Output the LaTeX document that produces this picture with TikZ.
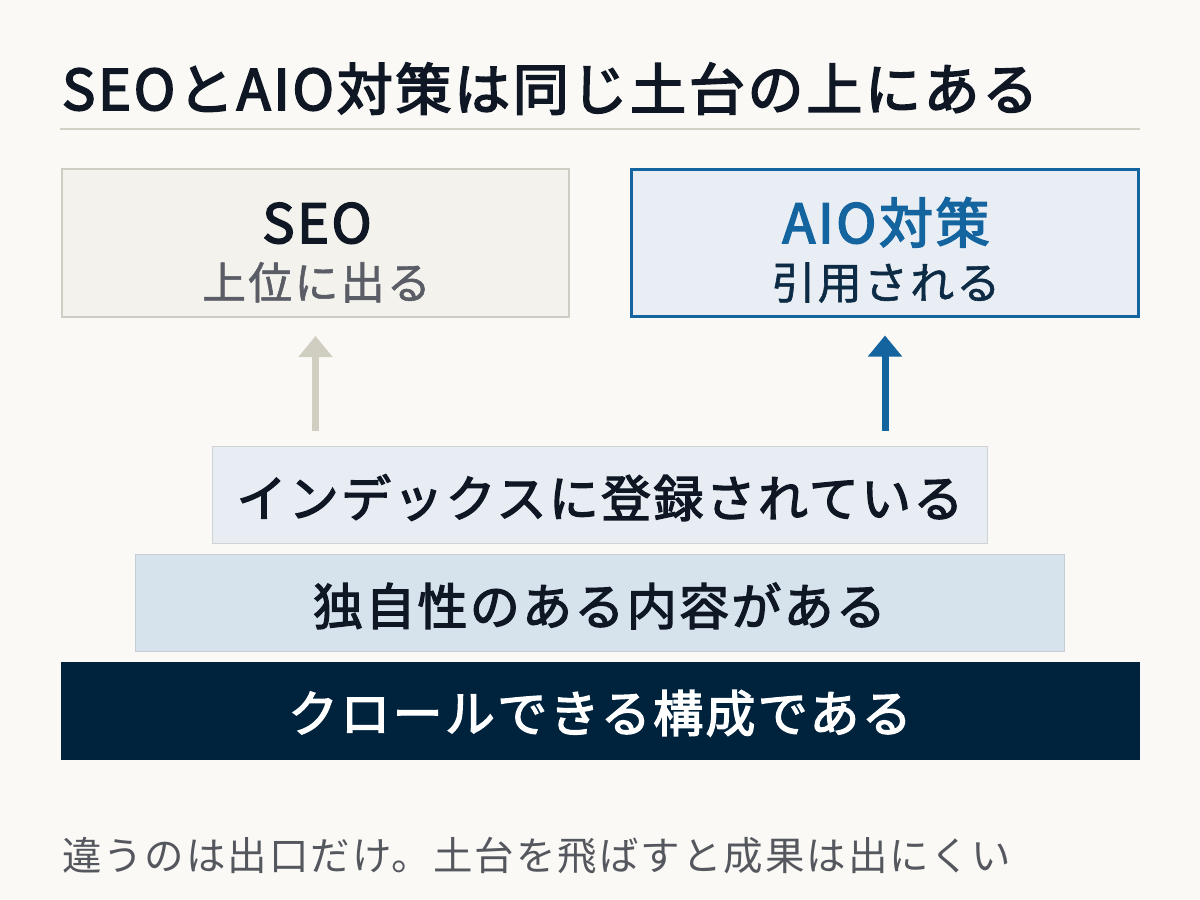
\documentclass[tikz,border=0pt]{standalone}
\usepackage{fontspec}
\setmainfont{Noto Sans CJK JP}
\newfontfamily\jp[LetterSpace=5]{Noto Sans CJK JP}
\newfontfamily\jpm[LetterSpace=4.8,FakeBold=3]{Noto Sans CJK JP}
\newfontfamily\jpl[LetterSpace=4.6,FakeBold=2.6]{Noto Sans CJK JP}
\newfontfamily\jps[LetterSpace=5,FakeBold=1.3]{Noto Sans CJK JP}
\usetikzlibrary{arrows.meta}
\definecolor{bg}{HTML}{FAF9F6}
\definecolor{ink}{HTML}{0F1724}
\definecolor{rulec}{HTML}{D3D1C6}
\definecolor{seofill}{HTML}{F3F2EC}
\definecolor{seoline}{HTML}{CFCDC3}
\definecolor{aiofill}{HTML}{E8EEF4}
\definecolor{aioblue}{HTML}{13649F}
\definecolor{greyarrow}{HTML}{D0CDC1}
\definecolor{idxfill}{HTML}{E7EDF3}
\definecolor{idxline}{HTML}{D0D2D4}
\definecolor{midfill}{HTML}{D6E2EC}
\definecolor{midline}{HTML}{C6CDD4}
\definecolor{basefill}{HTML}{00233D}
\definecolor{subgrey}{HTML}{5A5C66}
\definecolor{subnavy}{HTML}{0D2B45}
\definecolor{footgrey}{HTML}{55575E}
\tikzset{
  box/.style={rectangle, inner sep=0pt, outer sep=0pt},
  seobox/.style={box, draw=seoline, fill=seofill, line width=2pt, minimum width=507pt, minimum height=148pt},
  aiobox/.style={box, draw=aioblue, fill=aiofill, line width=3pt, minimum width=507pt, minimum height=147pt},
  layerbox/.style={box, line width=1pt},
  txt/.style={inner sep=0pt, outer sep=0pt, anchor=base},
  uparrow/.style={line width=7pt, -{Triangle[width=33pt,length=21pt]}},
}
\begin{document}
\begin{tikzpicture}[x=1pt,y=-1pt]
\fill[bg] (0,0) rectangle (1200,900);
\useasboundingbox (0,0) rectangle (1200,900);
% title
\node[txt, anchor=base west, text=ink] (title) at (62,110) {\jpm\fontsize{56}{60}\selectfont SEOとAIO対策は同じ土台の上にある};
\draw[rulec, line width=2pt] (60,129) -- (1140,129);
% top boxes
\node[seobox] (seo) at (315.5,243) {};
\node[aiobox] (aio) at (885,243) {};
\node[txt, text=ink] (seot) at (317,243) {\jpm\fontsize{54}{58}\selectfont SEO};
\node[txt, text=subgrey] (seos) at (316.5,299) {\jps\fontsize{44}{48}\selectfont 上位に出る};
\node[txt, text=aioblue] (aiot) at (886,243) {\jpm\fontsize{54}{58}\selectfont AIO対策};
\node[txt, text=subnavy] (aios) at (886,299) {\jps\fontsize{44}{48}\selectfont 引用される};
% layers
\node[layerbox, draw=idxline, fill=idxfill, minimum width=775pt, minimum height=97pt] (idx) at (600,495) {};
\node[layerbox, draw=midline, fill=midfill, minimum width=929pt, minimum height=97pt] (mid) at (600,603) {};
\node[box, fill=basefill, minimum width=1079pt, minimum height=98pt] (base) at (600.5,711) {};
\node[txt, text=ink] (idxt) at (600,517) {\jpl\fontsize{50}{54}\selectfont インデックスに登録されている};
\node[txt, text=ink] (midt) at (599.5,625) {\jpl\fontsize{50}{54}\selectfont 独自性のある内容がある};
\node[txt, text=white] (baset) at (600,732) {\jpl\fontsize{50}{54}\selectfont クロールできる構成である};
% arrows
\coordinate (g0) at (315.5,431);
\coordinate (b0) at (885,431);
\draw[uparrow, greyarrow] (g0) -- ([yshift=-19pt]seo.south);
\draw[uparrow, aioblue] (b0) -- ([yshift=-19pt]aio.south);
% footer
\node[txt, anchor=base west, text=footgrey] (foot) at (62,870) {\jp\fontsize{39.5}{44}\selectfont 違うのは出口だけ。土台を飛ばすと成果は出にくい};
\end{tikzpicture}
\end{document}
